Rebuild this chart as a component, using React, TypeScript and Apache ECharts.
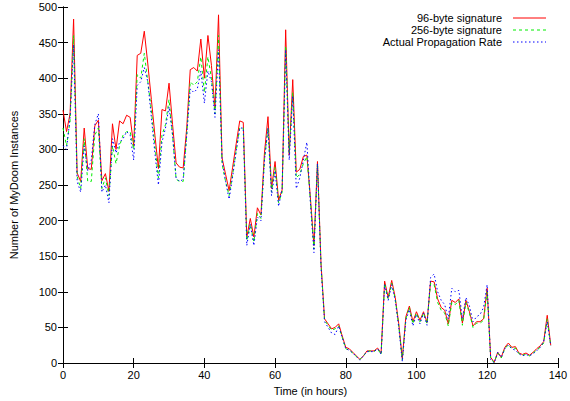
import React, { useEffect, useRef } from "react";
import * as echarts from "echarts";

const hours: number[] = Array.from({ length: 139 }, (_, i) => i);

const sig96: number[] = [
  355, 325, 350, 483, 267, 255, 330, 273, 272, 333,
  341, 256, 266, 241, 336, 300, 340, 336, 348, 345,
  305, 432, 435, 466, 420, 370, 320, 273, 356, 354,
  393, 335, 281, 275, 274, 330, 412, 415, 410, 455,
  400, 460, 418, 358, 489, 288, 265, 242, 275, 308,
  340, 338, 177, 203, 177, 218, 208, 295, 346, 245,
  283, 229, 243, 468, 292, 398, 268, 272, 290, 292,
  232, 165, 283, 140, 62, 55, 48, 50, 55, 38,
  22, 20, 15, 10, 5, 10, 17, 17, 17, 21,
  14, 115, 92, 116, 92, 55, 6, 65, 80, 58,
  72, 60, 72, 57, 115, 114, 90, 78, 74, 55,
  88, 85, 90, 56, 88, 72, 52, 58, 58, 62,
  105, 8, 1, 15, 8, 22, 28, 22, 23, 14,
  12, 14, 11, 15, 20, 24, 30, 67, 25,
];

const sig256: number[] = [
  330, 305, 340, 460, 262, 245, 315, 255, 255, 320,
  330, 245, 260, 235, 305, 280, 305, 320, 325, 325,
  300, 405, 400, 435, 395, 355, 305, 260, 320, 335,
  370, 320, 258, 255, 255, 320, 395, 390, 395, 430,
  380, 430, 400, 350, 460, 280, 255, 235, 265, 298,
  330, 330, 172, 195, 170, 210, 203, 285, 330, 240,
  275, 225, 240, 445, 295, 380, 260, 265, 280, 290,
  228, 160, 280, 138, 60, 53, 46, 48, 52, 36,
  20, 18, 14, 9, 5, 10, 16, 17, 16, 20,
  12, 112, 90, 112, 90, 52, 4, 62, 78, 55,
  70, 58, 70, 55, 112, 110, 85, 74, 70, 52,
  85, 82, 88, 53, 85, 70, 50, 56, 56, 60,
  100, 6, 1, 14, 7, 20, 26, 20, 21, 13,
  11, 12, 10, 14, 18, 22, 28, 62, 24,
];

const actual: number[] = [
  305, 300, 345, 447, 255, 240, 305, 270, 285, 335,
  350, 240, 250, 225, 315, 295, 310, 315, 325, 320,
  285, 390, 395, 415, 395, 345, 295, 250, 310, 330,
  360, 320, 260, 255, 258, 320, 385, 380, 385, 410,
  365, 410, 395, 345, 440, 285, 255, 230, 262, 298,
  330, 330, 165, 195, 165, 205, 200, 285, 330, 235,
  270, 220, 245, 440, 285, 375, 245, 260, 285, 310,
  225, 155, 280, 135, 58, 50, 42, 40, 52, 36,
  20, 18, 14, 9, 4, 10, 16, 16, 16, 20,
  12, 110, 88, 110, 88, 50, 2, 60, 75, 52,
  68, 55, 70, 53, 120, 125, 100, 88, 82, 62,
  105, 100, 102, 62, 92, 80, 58, 65, 68, 78,
  110, 5, 0, 15, 8, 20, 25, 20, 18, 13,
  10, 12, 10, 13, 17, 22, 30, 58, 24,
];

const seriesNames = ["96-byte signature", "256-byte signature", "Actual Propagation Rate"];
const seriesColors = ["#ff0000", "#00ee00", "#0000ff"];
const seriesDash: (number[] | null)[] = [null, [3, 3], [1.5, 2.5]];

export default function App() {
  const ref = useRef<HTMLDivElement>(null);
  useEffect(() => {
    if (!ref.current) return;
    const chart = echarts.init(ref.current, undefined, { renderer: "svg" });
    const font = "Liberation Sans, Arial, sans-serif";
    const axisCommon = {
      type: "value" as const,
      axisLine: { show: true, lineStyle: { color: "#000", width: 1 } },
      axisTick: { show: true, inside: true, length: 5, lineStyle: { color: "#000" } },
      splitLine: { show: false },
    };
    const mk = (vals: number[]) => hours.map((h, i) => [h, vals[i]]);
    const legendGraphics: any[] = [];
    seriesNames.forEach((name, i) => {
      const y = 18 + i * 12;
      legendGraphics.push({
        type: "text",
        x: 502,
        y: y,
        style: {
          text: name,
          fontFamily: font,
          fontSize: 11,
          fill: "#000",
          textAlign: "right",
          align: "right",
          textVerticalAlign: "middle",
          verticalAlign: "middle",
        },
      });
      legendGraphics.push({
        type: "line",
        shape: { x1: 513, y1: y, x2: 546, y2: y },
        style: {
          stroke: seriesColors[i],
          lineWidth: 1,
          lineDash: seriesDash[i] || undefined,
        },
      });
    });
    chart.setOption({
      animation: false,
      backgroundColor: "#fff",
      grid: { left: 61, right: 11, top: 7, bottom: 37 },
      xAxis: [
        {
          ...axisCommon,
          min: 0,
          max: 140,
          interval: 20,
          name: "Time (in hours)",
          nameLocation: "middle",
          nameGap: 22,
          nameTextStyle: { fontFamily: font, fontSize: 11, color: "#000" },
          axisLabel: { fontFamily: font, fontSize: 11, color: "#000", margin: 6 },
        },
        {
          ...axisCommon,
          position: "top",
          min: 0,
          max: 140,
          interval: 20,
          axisLabel: { show: false },
        },
      ],
      yAxis: [
        {
          ...axisCommon,
          min: 0,
          max: 500,
          interval: 50,
          name: "Number of MyDoom Instances",
          nameLocation: "middle",
          nameGap: 44,
          nameTextStyle: { fontFamily: font, fontSize: 11, color: "#000" },
          axisLabel: { fontFamily: font, fontSize: 11, color: "#000", margin: 6 },
        },
        {
          ...axisCommon,
          position: "right",
          min: 0,
          max: 500,
          interval: 50,
          axisLabel: { show: false },
        },
      ],
      graphic: legendGraphics,
      series: seriesNames.map((name, i) => ({
        name,
        type: "line",
        data: mk([sig96, sig256, actual][i]),
        showSymbol: false,
        symbol: "none",
        lineStyle: {
          color: seriesColors[i],
          width: 1,
          type: seriesDash[i] || "solid",
        },
        itemStyle: { color: seriesColors[i] },
      })),
    });
    return () => chart.dispose();
  }, []);
  return (
    <div
      ref={ref}
      style={{ position: "absolute", left: 0, top: 0, width: 570, height: 401 }}
    />
  );
}
